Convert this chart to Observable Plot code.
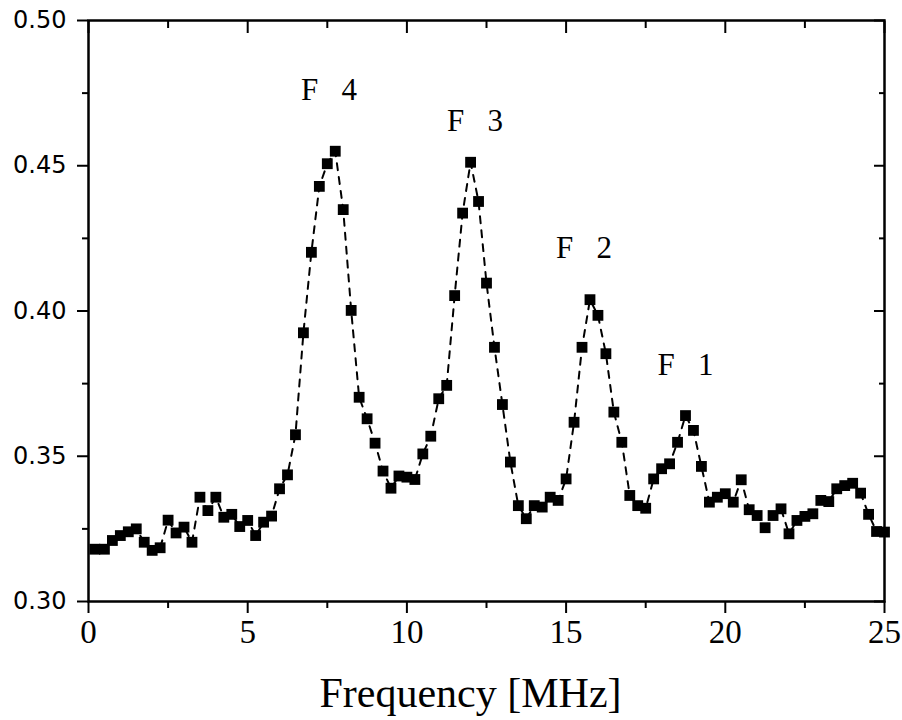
<!DOCTYPE html>
<html><head><meta charset="utf-8">
<script src="https://cdn.jsdelivr.net/npm/d3@7"></script>
<script src="https://cdn.jsdelivr.net/npm/@observablehq/plot@0.6"></script>
<style>body{margin:0;background:#fff}</style>
</head><body><div id="chart"></div>
<script>
const freq = [0.2, 0.5, 0.75, 1.0, 1.25, 1.5, 1.75, 2.0, 2.25, 2.5, 2.75, 3.0, 3.25, 3.5, 3.75, 4.0, 4.25, 4.5, 4.75, 5.0,
  5.25, 5.5, 5.75, 6.0, 6.25, 6.5, 6.75, 7.0, 7.25, 7.5, 7.75, 8.0, 8.25, 8.5, 8.75, 9.0, 9.25, 9.5, 9.75, 10.0,
  10.25, 10.5, 10.75, 11.0, 11.25, 11.5, 11.75, 12.0, 12.25, 12.5, 12.75, 13.0, 13.25, 13.5, 13.75, 14.0, 14.25, 14.5, 14.75, 15.0,
  15.25, 15.5, 15.75, 16.0, 16.25, 16.5, 16.75, 17.0, 17.25, 17.5, 17.75, 18.0, 18.25, 18.5, 18.75, 19.0, 19.25, 19.5, 19.75, 20.0,
  20.25, 20.5, 20.75, 21.0, 21.25, 21.5, 21.75, 22.0, 22.25, 22.5, 22.75, 23.0, 23.25, 23.5, 23.75, 24.0, 24.25, 24.5, 24.75, 25.0];
const signal = [0.318, 0.318, 0.321, 0.3227, 0.324, 0.325, 0.3204, 0.3176, 0.3185, 0.328, 0.3236, 0.3256, 0.3204, 0.3359, 0.3313, 0.3359, 0.329, 0.330, 0.3258, 0.3279,
  0.3227, 0.3273, 0.3294, 0.3388, 0.3436, 0.3574, 0.3925, 0.4202, 0.4429, 0.4507, 0.455, 0.4349, 0.4002, 0.3703, 0.3629, 0.3545, 0.3449, 0.339, 0.3432, 0.3428,
  0.342, 0.3508, 0.3569, 0.3698, 0.3744, 0.4053, 0.4337, 0.4512, 0.4377, 0.4096, 0.3875, 0.3678, 0.348, 0.333, 0.3285, 0.333, 0.3325, 0.3359, 0.3348, 0.3422,
  0.3617, 0.3875, 0.4039, 0.3985, 0.3853, 0.3652, 0.3548, 0.3365, 0.333, 0.3321, 0.3422, 0.3457, 0.3474, 0.3548, 0.364, 0.3589, 0.3465, 0.3342, 0.3359, 0.3371,
  0.3342, 0.3419, 0.3316, 0.3296, 0.3254, 0.3296, 0.3319, 0.3233, 0.3279, 0.3293, 0.3302, 0.3348, 0.3344, 0.3388, 0.3399, 0.3407, 0.3373, 0.330, 0.3241, 0.3239];
const peakLabels = ["F\u00a0\u00a0\u00a04", "F\u00a0\u00a0\u00a03", "F\u00a0\u00a0\u00a02", "F\u00a0\u00a0\u00a01"];
const peakX = [7.55, 12.14, 15.56, 18.75];
const peakY = [0.4725, 0.4621, 0.4184, 0.3778];
const xMajor = [0, 5, 10, 15, 20, 25];
const xMinor = [2.5, 7.5, 12.5, 17.5, 22.5];
const yMajor = [0.30, 0.35, 0.40, 0.45, 0.50];
const yMinor = [0.325, 0.375, 0.425, 0.475];
const xTitle = "Frequency [MHz]";

const data = freq.map((f, i) => ({f, s: signal[i]}));
const labels = peakLabels.map((t, i) => ({t, x: peakX[i], y: peakY[i]}));
const serif = "'Liberation Serif', 'Times New Roman', serif";
const blank = () => "";

const chart = Plot.plot({
  width: 902, height: 720,
  marginLeft: 88, marginRight: 18, marginTop: 20, marginBottom: 119,
  style: {background: "white", color: "black", fontFamily: serif},
  x: {domain: [0, 25]},
  y: {domain: [0.30, 0.50]},
  marks: [
    Plot.axisX(xMajor, {anchor: "bottom", tickSize: 12, tickPadding: 6, tickFormat: d => String(d), fontSize: 33, fontFamily: serif, strokeWidth: 2, label: null}),
    Plot.axisX(xMinor, {anchor: "bottom", tickSize: 7, tickFormat: blank, strokeWidth: 2, label: null}),
    Plot.axisX(xMajor, {anchor: "top", tickSize: -12, tickFormat: blank, strokeWidth: 2, label: null}),
    Plot.axisX(xMinor, {anchor: "top", tickSize: -7, tickFormat: blank, strokeWidth: 2, label: null}),
    Plot.axisY(yMajor, {anchor: "left", tickSize: 11, tickPadding: 11, tickFormat: d3.format(".2f"), fontSize: 24, fontFamily: "'DejaVu Sans', sans-serif", strokeWidth: 2, label: null}),
    Plot.axisY(yMinor, {anchor: "left", tickSize: 6, tickFormat: blank, strokeWidth: 2, label: null}),
    Plot.axisY(yMajor, {anchor: "right", tickSize: -11, tickFormat: blank, strokeWidth: 2, label: null}),
    Plot.axisY(yMinor, {anchor: "right", tickSize: -6, tickFormat: blank, strokeWidth: 2, label: null}),
    Plot.frame({stroke: "black", strokeWidth: 2.5}),
    Plot.line(data, {x: "f", y: "s", stroke: "black", strokeWidth: 2, strokeDasharray: "7,7"}),
    Plot.dot(data, {x: "f", y: "s", symbol: "square", r: 6.1, fill: "black", stroke: null}),
    Plot.text(labels, {x: "x", y: "y", text: "t", fontSize: 31, fontFamily: serif, lineAnchor: "bottom", textAnchor: "middle", fill: "black"}),
    Plot.text([xTitle], {text: d => d, frameAnchor: "bottom", lineAnchor: "bottom", dy: 105, dx: -16, fontSize: 42, fontFamily: serif, fill: "black"})
  ]
});
document.getElementById("chart").appendChild(chart);
</script>
</body></html>
